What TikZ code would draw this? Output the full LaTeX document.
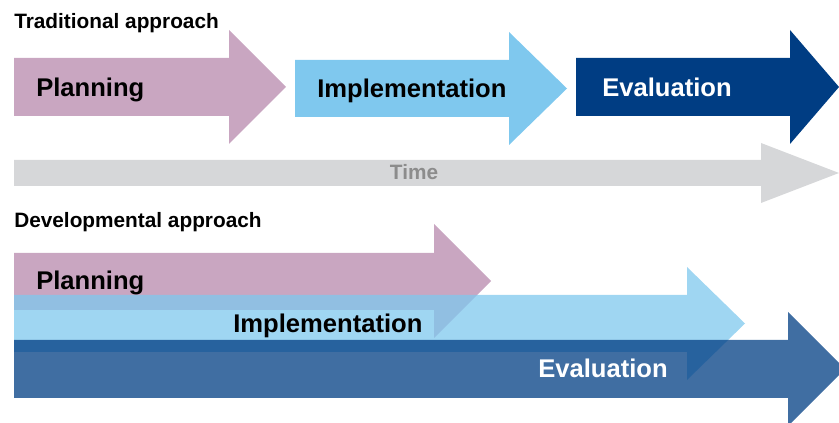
\documentclass[tikz,border=0pt]{standalone}
\usepackage{fontspec}
\setmainfont{Liberation Sans}
\usepackage{tikz}

\definecolor{planpink}{HTML}{C9A6C1}
\definecolor{implblue}{HTML}{7FC8EE}
\definecolor{evalnavy}{HTML}{003D83}
\definecolor{timegray}{HTML}{D6D7D9}
\definecolor{timetext}{HTML}{8C8C8C}

\tikzstyle{title} = [anchor=base west, inner sep=0pt, font=\fontsize{15.6}{18}\selectfont\bfseries]
\tikzstyle{phase} = [anchor=base west, inner sep=0pt, font=\fontsize{19.2}{22}\selectfont\bfseries]
\tikzstyle{plan} = [fill=planpink]
\tikzstyle{impl} = [fill=implblue]
\tikzstyle{eval} = [fill=evalnavy]
\tikzstyle{faded} = [fill opacity=0.75]

\begin{document}
\begin{tikzpicture}[x=0.75pt, y=-0.75pt]
	\clip (0,0) rectangle (839,423);

	% Traditional approach
	\node (ttitle) [title] at (14,29) {Traditional approach};
	\fill[plan] (14,58) -- (229,58) -- (229,30) -- (286,87) -- (229,144) -- (229,116) -- (14,116) -- cycle;
	\fill[impl] (295,60) -- (509,60) -- (509,32) -- (567,88.5) -- (509,145) -- (509,117) -- (295,117) -- cycle;
	\fill[eval] (576,58) -- (790,58) -- (790,30) -- (839,87) -- (790,144) -- (790,116) -- (576,116) -- cycle;
	\node (tplan) [phase] at (36,97) {Planning};
	\node (timpl) [phase] at (317,98) {Implementation};
	\node (teval) [phase, text=white] at (602,97) {Evaluation};

	% Time
	\fill[timegray] (14,160) -- (761,160) -- (761,143) -- (839,173) -- (761,203) -- (761,186) -- (14,186) -- cycle;
	\node (time) [title, anchor=base, text=timetext] at (414,180) {Time};

	% Developmental approach
	\node (dtitle) [title] at (14,228) {Developmental approach};
	\fill[plan] (14,253) -- (434,253) -- (434,224) -- (491,281) -- (434,338) -- (434,310) -- (14,310) -- cycle;
	\fill[impl, faded] (14,295) -- (687,295) -- (687,267) -- (745,323.5) -- (687,380) -- (687,352) -- (14,352) -- cycle;
	\fill[eval, faded] (14,340) -- (788,340) -- (788,312) -- (845,369) -- (788,426) -- (788,398) -- (14,398) -- cycle;
	\node (dplan) [phase] at (36,290) {Planning};
	\node (dimpl) [phase] at (233,333) {Implementation};
	\node (deval) [phase, text=white] at (538,378) {Evaluation};
\end{tikzpicture}
\end{document}
